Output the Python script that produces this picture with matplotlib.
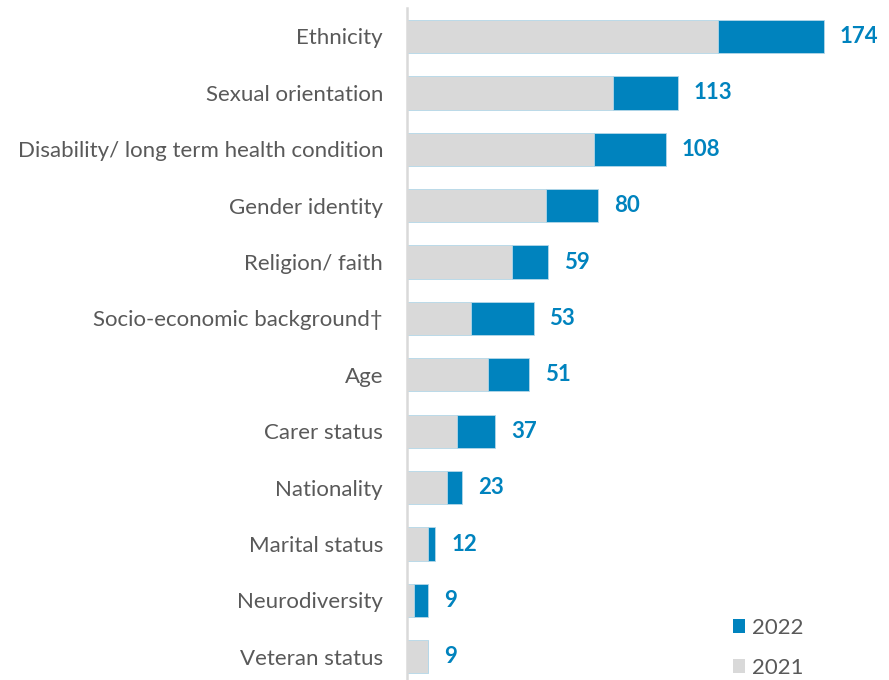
import matplotlib
matplotlib.use("Agg")
import matplotlib.pyplot as plt
from matplotlib.patches import Patch

categories = [
    "Ethnicity",
    "Sexual orientation",
    "Disability/ long term health condition",
    "Gender identity",
    "Religion/ faith",
    "Socio-economic background\u2020",
    "Age",
    "Carer status",
    "Nationality",
    "Marital status",
    "Neurodiversity",
    "Veteran status",
]
values_2021 = [130, 86, 78, 58, 44, 27, 34, 21, 17, 9, 3, 9]
values_2022 = [174, 113, 108, 80, 59, 53, 51, 37, 23, 12, 9, 9]

BLUE = "#0083BE"
GREY = "#D9D9D9"
EDGE = "#B4D7E8"
TEXT = "#595959"

plt.rcParams["font.family"] = ["Lato", "DejaVu Sans"]

W, H = 889, 680
fig = plt.figure(figsize=(W / 100, H / 100), dpi=100)
left_px, right_px = 406.7, 886.0
top_px, bottom_px = 8.3, 685.0
ax = fig.add_axes([left_px / W, 1 - bottom_px / H,
                   (right_px - left_px) / W, (bottom_px - top_px) / H])

ypos = list(range(len(categories)))
increase = [b - a for a, b in zip(values_2021, values_2022)]

ax.barh(ypos, values_2021, height=0.59, color=GREY, edgecolor=EDGE,
        linewidth=0.6, zorder=2)
ax.barh(ypos, increase, left=values_2021, height=0.59, color=BLUE,
        edgecolor=EDGE, linewidth=0.6, zorder=2)

for y, v in zip(ypos, values_2022):
    ax.text(v + 6.6, y, str(v), va="center", ha="left", fontsize=16,
            fontweight="bold", color=BLUE)

ax.set_xlim(0, 200)
ax.set_ylim(len(categories) - 0.5, -0.5)
ax.set_yticks(ypos)
ax.set_yticklabels(categories, fontsize=16, color=TEXT)
ax.tick_params(axis="y", length=0, pad=17)
ax.set_xticks([])
for side in ("top", "right", "bottom"):
    ax.spines[side].set_visible(False)
ax.spines["left"].set_color(GREY)
ax.spines["left"].set_linewidth(1.8)
ax.spines["left"].set_zorder(3)

handles = [Patch(facecolor=BLUE, edgecolor="none", label="2022"),
           Patch(facecolor=GREY, edgecolor="none", label="2021")]
leg = fig.legend(handles=handles, loc="upper left",
                 bbox_to_anchor=(713 / W, 1 - 598 / H), frameon=False,
                 fontsize=16, handlelength=0.55, handleheight=0.55,
                 handletextpad=0.32, labelspacing=0.9, labelcolor=TEXT)

fig.savefig("out.png", dpi=100)
